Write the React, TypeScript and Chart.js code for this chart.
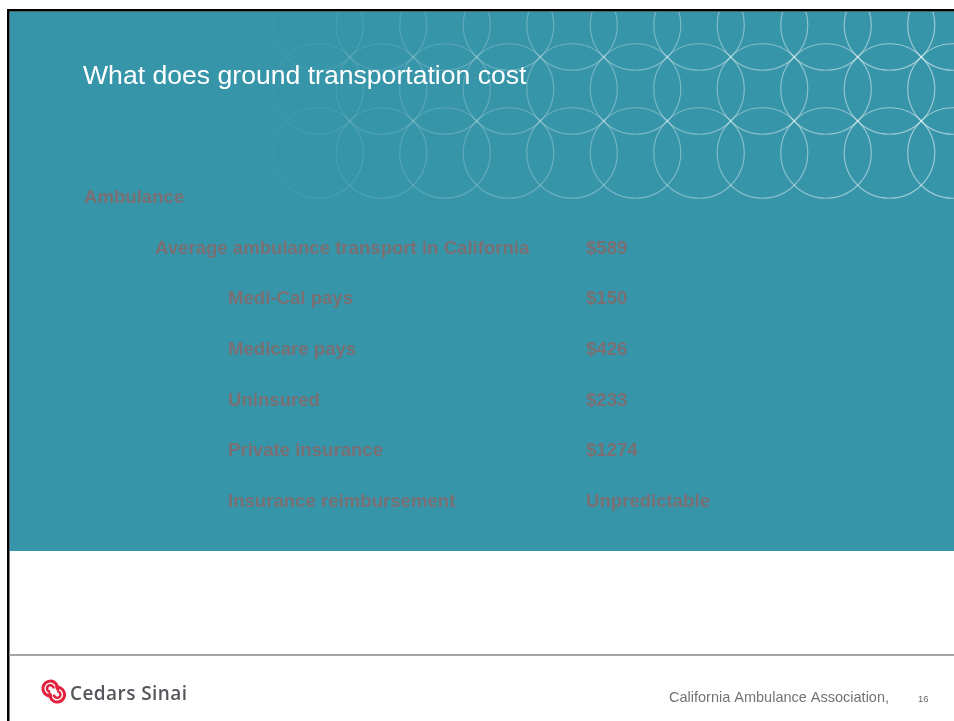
import React, { useEffect, useRef } from "react";
import { Chart, registerables } from "chart.js";

Chart.register(...registerables);

// ---- content ----
const slideTitle = "What does ground transportation cost";
const rowLabels = [
  "Ambulance",
  "Average ambulance transport in California",
  "Medi-Cal pays",
  "Medicare pays",
  "Uninsured",
  "Private insurance",
  "Insurance reimbursement",
];
const rowLevels = [0, 1, 2, 2, 2, 2, 2];
const costValues: (number | null)[] = [null, 589, 150, 426, 233, 1274, null];
const valueNotes: (string | null)[] = [null, null, null, null, null, null, "Unpredictable"];
const footerSource = "California Ambulance Association,";
const pageNumber = "16";
const brandName = "Cedars Sinai";

const W = 954;
const H = 721;
const TEAL = "#3795a9";
const ROW_COLOR = "#7a6f73";
const SANS = '"Liberation Sans", Arial, sans-serif';

function valueText(i: number): string {
  const v = costValues[i];
  if (v !== null && v !== undefined) return "$" + v;
  return valueNotes[i] || "";
}

function drawLogo(ctx: CanvasRenderingContext2D) {
  ctx.save();
  ctx.strokeStyle = "#e2203c";
  ctx.lineCap = "butt";
  // upper-left C (opening lower-right)
  ctx.lineWidth = 3;
  ctx.beginPath();
  ctx.arc(50.3, 688.5, 7.4, 0.42 * Math.PI, 2.08 * Math.PI);
  ctx.stroke();
  ctx.lineWidth = 2.4;
  ctx.beginPath();
  ctx.arc(50.3, 688.5, 3.3, 0.5 * Math.PI, 2.0 * Math.PI);
  ctx.stroke();
  // lower-right C (opening upper-left)
  ctx.lineWidth = 3;
  ctx.beginPath();
  ctx.arc(57.2, 694.6, 7.4, 1.42 * Math.PI, 3.08 * Math.PI);
  ctx.stroke();
  ctx.lineWidth = 2.4;
  ctx.beginPath();
  ctx.arc(57.2, 694.6, 3.3, 1.5 * Math.PI, 3.0 * Math.PI);
  ctx.stroke();
  ctx.restore();

  ctx.save();
  ctx.fillStyle = "#55565b";
  ctx.font = '600 19px "Open Sans", sans-serif';
  ctx.textBaseline = "alphabetic";
  const target = 117;
  const w = ctx.measureText(brandName).width;
  (ctx as any).letterSpacing = ((target - w) / (brandName.length - 1)).toFixed(2) + "px";
  ctx.fillText(brandName, 70, 699.5);
  ctx.restore();
}

const slidePlugin = {
  id: "slideBackground",
  beforeDraw(chart: any) {
    const ctx: CanvasRenderingContext2D = chart.ctx;
    ctx.save();
    ctx.fillStyle = "#ffffff";
    ctx.fillRect(0, 0, W, H);
    // teal panel
    ctx.fillStyle = TEAL;
    ctx.fillRect(9.5, 11.5, W - 9.5, 551 - 11.5);
    // circle pattern
    ctx.save();
    ctx.beginPath();
    ctx.rect(9.5, 11.5, W - 9.5, 551 - 11.5);
    ctx.clip();
    const grad = ctx.createLinearGradient(265, 0, W, 0);
    grad.addColorStop(0, "rgba(255,255,255,0.02)");
    grad.addColorStop(0.35, "rgba(255,255,255,0.22)");
    grad.addColorStop(1, "rgba(255,255,255,0.5)");
    ctx.strokeStyle = grad;
    ctx.lineWidth = 1.2;
    const r = 32 * Math.SQRT2;
    for (const cy of [25, 89, 153]) {
      for (let cx = 318; cx < W + 60; cx += 63.5) {
        ctx.beginPath();
        ctx.arc(cx, cy, r, 0, Math.PI * 2);
        ctx.stroke();
      }
    }
    ctx.restore();
    // frame lines
    ctx.fillStyle = "#000000";
    ctx.fillRect(7, 9, W - 7, 2.5);
    ctx.fillRect(7, 9, 2.5, H - 9);
    // title
    ctx.fillStyle = "#ffffff";
    ctx.font = "26.6px " + SANS;
    ctx.textBaseline = "alphabetic";
    ctx.textAlign = "left";
    ctx.fillText(slideTitle, 83, 83.5);
    // footer rule
    ctx.fillStyle = "#a6a6a6";
    ctx.fillRect(9.5, 654, W - 9.5, 2);
    // footer text
    ctx.fillStyle = "#737373";
    ctx.font = "14.5px " + SANS;
    ctx.fillText(footerSource, 669, 702);
    ctx.fillStyle = "#666666";
    ctx.font = "9.5px " + SANS;
    ctx.fillText(pageNumber, 918, 701.5);
    ctx.restore();
    drawLogo(ctx);
  },
  afterDatasetsDraw(chart: any) {
    const ctx: CanvasRenderingContext2D = chart.ctx;
    const yScale = chart.scales.y;
    const indent = [84, 155, 228];
    ctx.save();
    ctx.fillStyle = ROW_COLOR;
    ctx.font = "bold 18.6px " + SANS;
    ctx.textBaseline = "middle";
    ctx.textAlign = "left";
    rowLabels.forEach((label, i) => {
      const y = yScale.getPixelForValue(i);
      ctx.fillText(label, indent[rowLevels[i]], y);
      const vt = valueText(i);
      if (vt) ctx.fillText(vt, 586, y);
    });
    ctx.restore();
  },
};

export default function App() {
  const ref = useRef<HTMLCanvasElement | null>(null);
  useEffect(() => {
    document.body.style.margin = "0";
    document.body.style.overflow = "hidden";
    const canvas = ref.current;
    if (!canvas) return;
    const chart = new Chart(canvas, {
      type: "bar",
      data: {
        labels: rowLabels,
        datasets: [
          {
            label: "Cost (USD)",
            data: costValues as any,
            backgroundColor: "rgba(0,0,0,0)",
            borderWidth: 0,
          },
        ],
      },
      options: {
        indexAxis: "y",
        responsive: false,
        animation: false,
        devicePixelRatio: 1,
        layout: { padding: { top: 172.67, bottom: 193.67, left: 586, right: 120 } },
        scales: {
          y: { type: "category", display: false },
          x: { type: "linear", display: false, min: 0, max: 1400 },
        },
        plugins: {
          legend: { display: false },
          tooltip: { enabled: false },
          title: { display: false },
        },
      },
      plugins: [slidePlugin],
    });
    return () => chart.destroy();
  }, []);
  return (
    <div style={{ width: W, height: H }}>
      <canvas ref={ref} width={W} height={H} style={{ display: "block", width: W, height: H }} />
    </div>
  );
}
